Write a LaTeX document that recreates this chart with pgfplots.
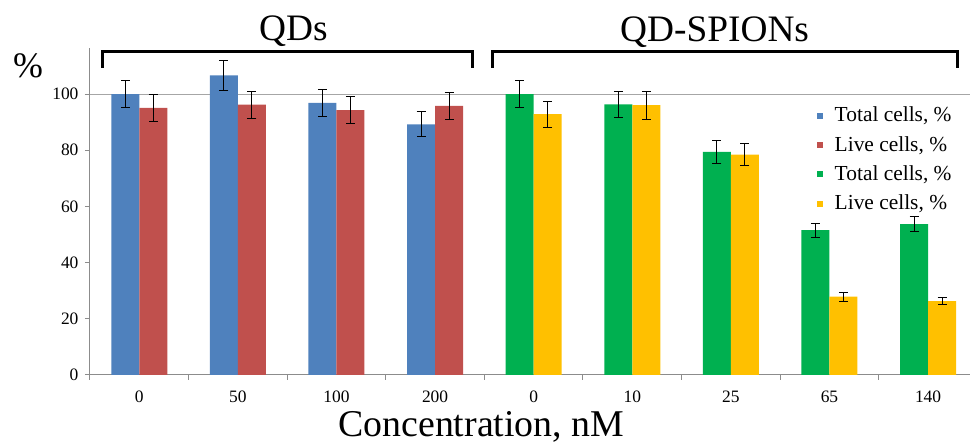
\documentclass[border=0pt]{standalone}
\usepackage{fontspec}
\setmainfont{Liberation Serif}
\usepackage{pgfplots}
\pgfplotsset{compat=1.18}
\definecolor{cblue}{HTML}{4F81BD}
\definecolor{cred}{HTML}{C0504D}
\definecolor{cgreen}{HTML}{00B050}
\definecolor{cyellow}{HTML}{FFC000}
\definecolor{axisgray}{HTML}{8C8C8C}
\definecolor{gridgray}{HTML}{A6A6A6}
\begin{document}
\begin{tikzpicture}
\begin{axis}[
  scale only axis, width=880bp, height=327bp,
  clip=false,
  xmin=-0.5, xmax=8.42, ymin=0, ymax=116.4,
  axis x line*=bottom, axis y line*=left,
  axis line style={draw=axisgray, line width=1bp, -},
  ybar, bar width=0.284,
  xtick={0,...,8}, xticklabels={0,50,100,200,0,10,25,65,140},
  minor xtick={-0.5,0.5,...,7.5},
  major x tick style={draw=none},
  minor x tick style={draw=axisgray, line width=1bp},
  minor tick length=5bp, major tick length=5bp,
  tick align=outside,
  ytick={0,20,...,100},
  y tick style={draw=axisgray, line width=1bp},
  extra y ticks={100}, extra y tick labels={},
  extra y tick style={grid=major, major grid style={draw=gridgray, line width=1bp}},
  ticklabel style={font=\fontsize{17.5}{17.5}\selectfont, text=black},
  yticklabel style={xshift=-3bp},
  xticklabel style={anchor=base, yshift=-23bp},
  /pgf/number format/assume math mode=true,
  legend cell align=left,
  legend style={at={(0.8261,0.8205)}, anchor=north west, draw=none, fill=none,
    inner sep=0pt, row sep=0pt, column sep=12bp,
    font=\fontsize{21.5}{21.5}\selectfont,
    nodes={inner sep=0pt, text height=15bp, text depth=14.4bp}},
  legend image code/.code={\fill[#1] (0bp,3bp) rectangle (6bp,9bp);},
  error bars/y dir=both, error bars/y explicit,
  error bars/error bar style={black, line width=0.8bp},
  error bars/error mark options={rotate=90, mark size=4.5bp, black, line width=0.8bp},
]
\addplot[fill=cblue, draw=none, bar shift=-0.142] table[x=x, y=y, y error=e] {
x y e
0 100 4.9
1 106.6 5.3
2 96.8 4.75
3 89.2 4.45
};
\addlegendentry{Total cells, \%}
\addplot[fill=cred, draw=none, bar shift=0.142] table[x=x, y=y, y error=e] {
x y e
0 95.1 4.75
1 96.2 4.75
2 94.3 4.7
3 95.8 4.75
};
\addlegendentry{Live cells, \%}
\addplot[fill=cgreen, draw=none, bar shift=-0.142] table[x=x, y=y, y error=e] {
x y e
4 100 4.9
5 96.3 4.75
6 79.4 4.0
7 51.5 2.55
8 53.7 2.7
};
\addlegendentry{Total cells, \%}
\addplot[fill=cyellow, draw=none, bar shift=0.142] table[x=x, y=y, y error=e] {
x y e
4 92.8 4.6
5 96.0 4.9
6 78.4 4.0
7 27.8 1.5
8 26.2 1.3
};
\addlegendentry{Live cells, \%}
\coordinate (O) at (rel axis cs:0,0);
\end{axis}
\begin{scope}[shift={(O)}, x=1bp, y=1bp]
\begin{scope}[shift={(-90,-68)}]
\draw[line width=3bp] (103,375)--(103,391)--(473,391)--(473,375);
\draw[line width=3bp] (493,375)--(493,391)--(958,391)--(958,375);
\node[anchor=base, inner sep=0pt, font=\fontsize{37.5}{37.5}\selectfont] at (293.5,402) {QDs};
\node[anchor=base, inner sep=0pt, font=\fontsize{37.5}{37.5}\selectfont] at (715,401.5) {QD-SPIONs};
\node[anchor=base west, inner sep=0pt, font=\fontsize{36}{36}\selectfont] at (13,365.3) {\%};
\node[anchor=base, inner sep=0pt, font=\fontsize{38}{38}\selectfont] at (481.5,6.5) {Concentration, nM};
\path (0,0) rectangle (970,443);
\end{scope}
\end{scope}
\end{tikzpicture}
\end{document}
